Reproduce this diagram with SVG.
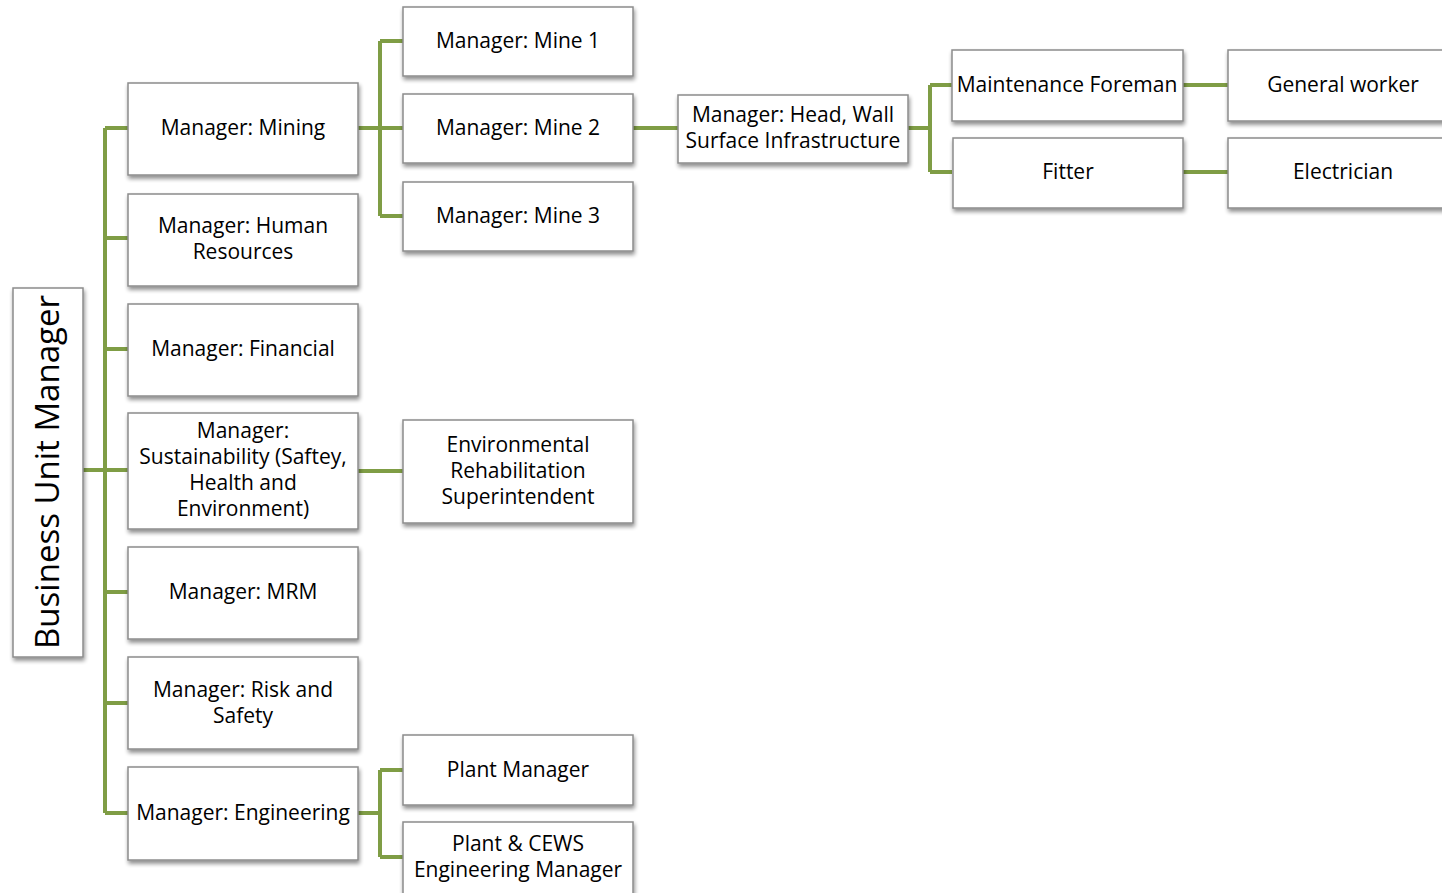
<svg xmlns="http://www.w3.org/2000/svg" width="1442" height="893" viewBox="0 0 1442 893">
<defs>
<filter id="sh" x="-10%" y="-10%" width="120%" height="130%">
<feGaussianBlur in="SourceAlpha" stdDeviation="2"/>
<feOffset dx="1" dy="3" result="b"/>
<feComponentTransfer><feFuncA type="linear" slope="0.45"/></feComponentTransfer>
<feMerge><feMergeNode/><feMergeNode in="SourceGraphic"/></feMerge>
</filter>
</defs>
<style>
.box{fill:#fff;stroke:#8c8c8c;stroke-width:1.5;filter:url(#sh)}
.t{font-family:"Open Sans","Noto Sans",sans-serif;font-size:21px;fill:#000;text-anchor:middle}
.c{fill:none;stroke:#7f9d45;stroke-width:4;stroke-linejoin:round}
</style>
<rect width="1442" height="893" fill="#fff"/>
<g id="connectors">
<path class="c" d="M83 470H105M105 128V813M105 128H128M105 238H128M105 349H128M105 470H128M105 592H128M105 703H128M105 813H128"/>
<path class="c" d="M358 128H380M380 41V216M380 41H403M380 128H403M380 216H403"/>
<path class="c" d="M358 471H403"/>
<path class="c" d="M358 813H380M380 770V857M380 770H403M380 857H403"/>
<path class="c" d="M633 128H678"/>
<path class="c" d="M908 128H930M930 85V172M930 85H952M930 172H952"/>
<path class="c" d="M1183 85H1228M1183 172H1228"/>
</g>
<g id="n-bum"><rect class="box" x="13" y="288" width="70" height="369"/><text class="t" style="font-size:33px" transform="translate(59 472) rotate(-90)">Business Unit Manager</text></g>
<g id="n-mining"><rect class="box" x="128" y="83" width="230" height="92"/><text class="t" x="243" y="135">Manager: Mining</text></g>
<g id="n-hr"><rect class="box" x="128" y="194" width="230" height="92"/><text class="t" x="243" y="233">Manager: Human</text><text class="t" x="243" y="259">Resources</text></g>
<g id="n-fin"><rect class="box" x="128" y="304" width="230" height="92"/><text class="t" x="243" y="356">Manager: Financial</text></g>
<g id="n-sus"><rect class="box" x="128" y="413" width="230" height="116"/><text class="t" x="243" y="438">Manager:</text><text class="t" x="243" y="464">Sustainability (Saftey,</text><text class="t" x="243" y="490">Health and</text><text class="t" x="243" y="516">Environment)</text></g>
<g id="n-mrm"><rect class="box" x="128" y="547" width="230" height="92"/><text class="t" x="243" y="599">Manager: MRM</text></g>
<g id="n-risk"><rect class="box" x="128" y="657" width="230" height="92"/><text class="t" x="243" y="697">Manager: Risk and</text><text class="t" x="243" y="723">Safety</text></g>
<g id="n-eng"><rect class="box" x="128" y="767" width="230" height="93"/><text class="t" x="243" y="820">Manager: Engineering</text></g>
<g id="n-mine1"><rect class="box" x="403" y="7" width="230" height="69"/><text class="t" x="518" y="48">Manager: Mine 1</text></g>
<g id="n-mine2"><rect class="box" x="403" y="94" width="230" height="69"/><text class="t" x="518" y="135">Manager: Mine 2</text></g>
<g id="n-mine3"><rect class="box" x="403" y="182" width="230" height="69"/><text class="t" x="518" y="223">Manager: Mine 3</text></g>
<g id="n-env"><rect class="box" x="403" y="420" width="230" height="103"/><text class="t" x="518" y="452">Environmental</text><text class="t" x="518" y="478">Rehabilitation</text><text class="t" x="518" y="504">Superintendent</text></g>
<g id="n-plant"><rect class="box" x="403" y="735" width="230" height="70"/><text class="t" x="518" y="777">Plant Manager</text></g>
<g id="n-cews"><rect class="box" x="403" y="822" width="230" height="75"/><text class="t" x="518" y="851">Plant &amp; CEWS</text><text class="t" x="518" y="877">Engineering Manager</text></g>
<g id="n-head"><rect class="box" x="678" y="95" width="230" height="68"/><text class="t" x="793" y="122">Manager: Head, Wall</text><text class="t" x="793" y="148">Surface Infrastructure</text></g>
<g id="n-maint"><rect class="box" x="952" y="50" width="231" height="71"/><text class="t" x="1067" y="92">Maintenance Foreman</text></g>
<g id="n-fitter"><rect class="box" x="953" y="138" width="230" height="70"/><text class="t" x="1068" y="179">Fitter</text></g>
<g id="n-gen"><rect class="box" x="1228" y="50" width="230" height="71"/><text class="t" x="1343" y="92">General worker</text></g>
<g id="n-elec"><rect class="box" x="1228" y="138" width="230" height="70"/><text class="t" x="1343" y="179">Electrician</text></g>
</svg>
